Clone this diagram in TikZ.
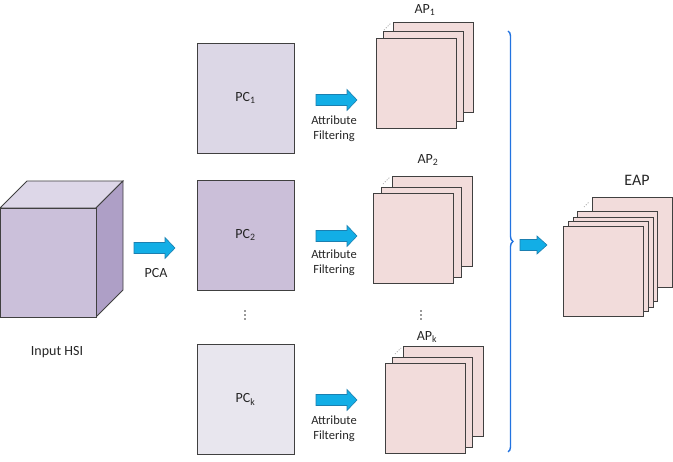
\documentclass[tikz,border=0pt]{standalone}
\usepackage{fontspec}
\setmainfont{Carlito}
\usetikzlibrary{decorations.pathreplacing}
\definecolor{edgec}{HTML}{404040}
\definecolor{cubefront}{HTML}{CBC0DA}
\definecolor{cubetop}{HTML}{DDD7E8}
\definecolor{cuberight}{HTML}{AE9FC6}
\definecolor{pcone}{HTML}{DCD7E6}
\definecolor{pctwo}{HTML}{CBBFD9}
\definecolor{pck}{HTML}{E8E6EE}
\definecolor{apfill}{HTML}{F2DCDB}
\definecolor{arrfill}{HTML}{12AEE6}
\definecolor{arredge}{HTML}{1B7FB0}
\definecolor{bracec}{HTML}{2273E0}
\tikzset{
  every node/.style={font=\fontsize{14}{16}\selectfont, text=black!85},
  pcbox/.style={draw=edgec, line width=0.8pt, minimum width=97pt, minimum height=110pt, inner sep=0pt},
  sheet/.style={draw=edgec, line width=0.8pt, fill=apfill, minimum width=80pt, minimum height=90pt, inner sep=0pt},
  small/.style={font=\fontsize{12.5}{15}\selectfont, align=center},
  vdot/.style={fill=black!80},
  pics/barr/.style args={#1/#2}{code={
    \filldraw[fill=arrfill, draw=arredge, line width=0.6pt]
      (0,-5.5) -- (#1-10,-5.5) -- (#1-10,-#2) -- (#1,0) -- (#1-10,#2) -- (#1-10,5.5) -- (0,5.5) -- cycle;
  }},
}
\begin{document}
\begin{tikzpicture}[x=1pt,y=-1pt]
\useasboundingbox (0,0) rectangle (673,462);
% cube
\filldraw[fill=cubetop, draw=edgec, line width=0.8pt] (0,208) -- (27,181) -- (123,181) -- (96,208) -- cycle;
\filldraw[fill=cuberight, draw=edgec, line width=0.8pt] (96,208) -- (123,181) -- (123,290) -- (96,317) -- cycle;
\filldraw[fill=cubefront, draw=edgec, line width=0.8pt] (0,208) rectangle (96,317);
\node (hsi) at (57,352) {Input HSI};
% PCA arrow
\pic at (134,248) {barr=41/10.5};
\node (pca) at (156,273) {PCA};
% PC boxes
\node[pcbox, fill=pcone] (pc1) at (245.5,98) {PC\textsubscript{1}};
\node[pcbox, fill=pctwo] (pc2) at (245.5,235) {PC\textsubscript{2}};
\node[pcbox, fill=pck] (pck) at (245.5,399.5) {PC\textsubscript{k}};
\foreach \yy in {311,315,319} \fill[vdot] (245,\yy) circle (0.9);
% attribute filtering arrows
\pic at (316,100) {barr=41/10.5};
\pic at (316,236) {barr=41/10.5};
\pic at (316,400) {barr=41/10.5};
\node[small] (af1) at (334,129) {Attribute\\Filtering};
\node[small] (af2) at (334,263) {Attribute\\Filtering};
\node[small] (afk) at (334,429) {Attribute\\Filtering};
% AP1 stack
\node[sheet] (a1c) at (433.5,67) {};
\node[sheet] (a1b) at (423.5,76) {};
\node[sheet] (a1a) at (416,83) {};
\draw[edgec, dotted, line width=0.7pt] (384,30) -- (391,23);
\node (ap1) at (425,10) {AP\textsubscript{1}};
% AP2 stack
\node[sheet] (a2c) at (432,221) {};
\node[sheet] (a2b) at (421,232) {};
\node[sheet] (a2a) at (413,238.5) {};
\draw[edgec, dotted, line width=0.7pt] (383,184) -- (390,177);
\node (ap2) at (428,160) {AP\textsubscript{2}};
% dots
\foreach \yy in {311,315,319} \fill[vdot] (421,\yy) circle (0.9);
% APk stack
\node[sheet] (akc) at (443.5,391.5) {};
\node[sheet] (akb) at (432.5,402.5) {};
\node[sheet] (aka) at (425.5,408.5) {};
\draw[edgec, dotted, line width=0.7pt] (395,354) -- (401,348);
\node (apk) at (427,337) {AP\textsubscript{k}};
% brace
\draw[bracec, line width=1.4pt, decorate, decoration={brace, amplitude=5pt}] (508,31) -- (508,452);
% EAP arrow
\pic at (520,245) {barr=27/9};
% EAP stack
\node[sheet] (e5) at (632,242.5) {};
\node[sheet] (e4) at (617,256.5) {};
\node[sheet] (e3) at (613,262) {};
\node[sheet] (e2) at (608,266.5) {};
\node[sheet] (e1) at (603.5,271.5) {};
\draw[edgec, dotted, line width=0.7pt] (584,207) -- (589,202);
\node[font=\fontsize{16}{18}\selectfont] (eap) at (637,180) {EAP};
\end{tikzpicture}
\end{document}
